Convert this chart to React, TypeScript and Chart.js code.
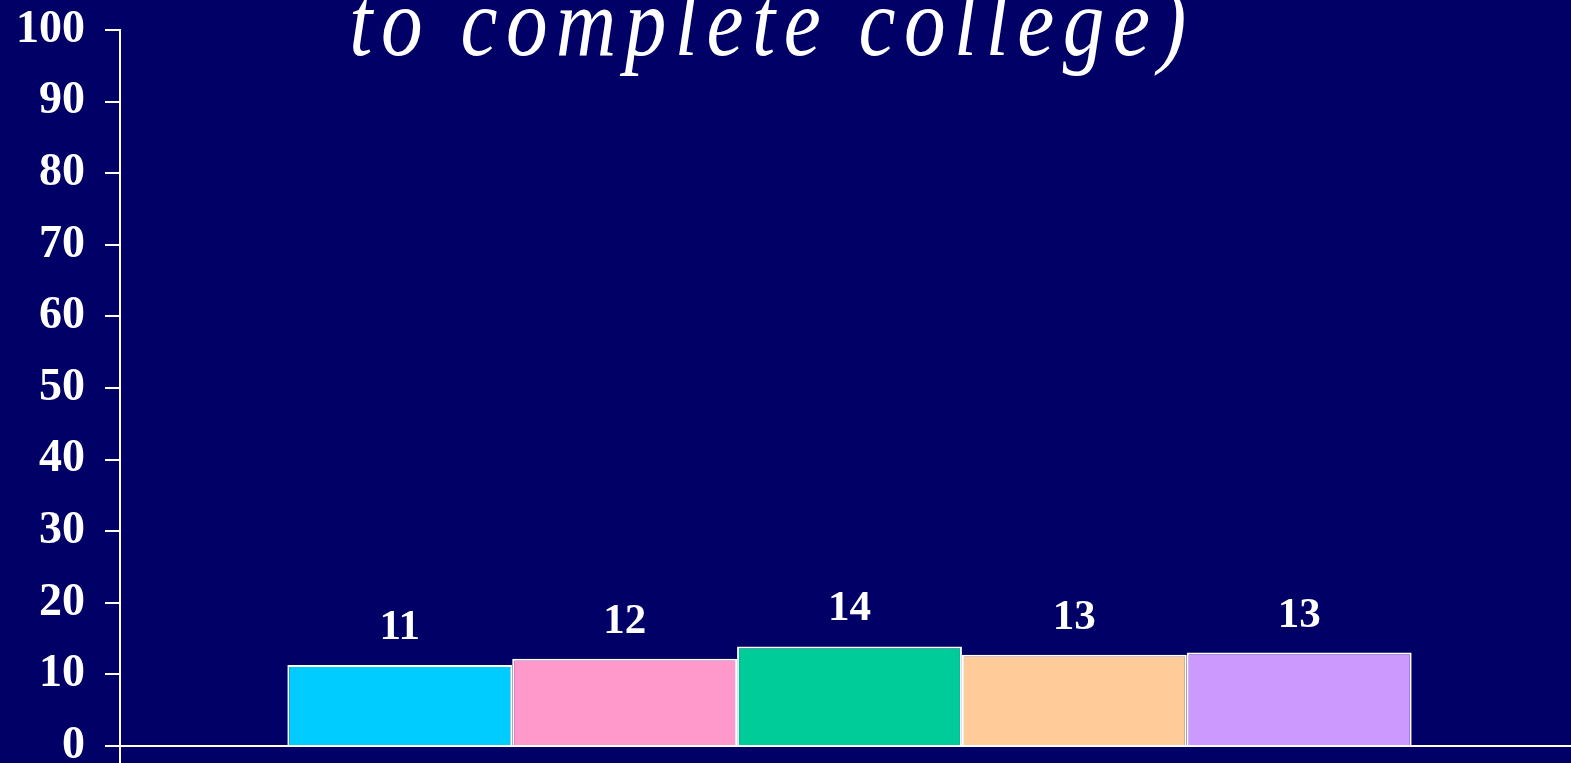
import React, { useEffect, useRef } from "react";
import { Chart, registerables } from "chart.js";

Chart.register(...registerables);

const categories = [""];
const seriesNames = ["Series 1", "Series 2", "Series 3", "Series 4", "Series 5"];
const seriesValues = [11.3, 12.2, 13.9, 12.75, 13.05];
const valueLabels = ["11", "12", "14", "13", "13"];
const seriesColors = ["#00CCFF", "#FF99CC", "#00CC99", "#FFCC99", "#CC99FF"];
const yTicks = [0, 10, 20, 30, 40, 50, 60, 70, 80, 90, 100];
const titleText = "to complete college)";

const BG = "#000066";
const SERIF = '"Liberation Serif", "Times New Roman", Times, serif';

const bgPlugin = {
  id: "bgFill",
  beforeDraw(chart: any) {
    const { ctx, width, height } = chart;
    ctx.save();
    ctx.fillStyle = BG;
    ctx.fillRect(0, 0, width, height);
    ctx.restore();
  },
};

// the plotted category band runs slightly past the right edge of the canvas
const extendPlot = {
  id: "extendPlot",
  afterLayout(chart: any) {
    const x = chart.scales.x;
    if (x) {
      x._endPixel += 8;
      x._length = x._endPixel - x._startPixel;
    }
  },
};

const titlePlugin = {
  id: "cutTitle",
  afterDraw(chart: any) {
    const { ctx } = chart;
    const sx = 0.85;
    ctx.save();
    ctx.translate(772, 55);
    ctx.scale(sx, 1);
    ctx.fillStyle = "#FFFFFF";
    ctx.font = "italic 98px " + SERIF;
    try {
      (ctx as any).letterSpacing = (8.5 / sx).toFixed(1) + "px";
    } catch (e) {}
    ctx.textAlign = "center";
    ctx.textBaseline = "alphabetic";
    ctx.fillText(titleText, 0, 0);
    ctx.restore();
  },
};

const valueLabelPlugin = {
  id: "valueLabels",
  afterDatasetsDraw(chart: any) {
    const { ctx } = chart;
    ctx.save();
    ctx.fillStyle = "#FFFFFF";
    ctx.font = "bold 43px " + SERIF;
    ctx.textAlign = "center";
    ctx.textBaseline = "alphabetic";
    chart.data.datasets.forEach((ds: any, i: number) => {
      const meta = chart.getDatasetMeta(i);
      const el = meta.data[0];
      if (!el) return;
      ctx.fillText(valueLabels[i], el.x, el.y - 26);
    });
    ctx.restore();
  },
};

export default function App() {
  const canvasRef = useRef<HTMLCanvasElement | null>(null);

  useEffect(() => {
    document.body.style.margin = "0";
    document.body.style.background = BG;
    const canvas = canvasRef.current;
    if (!canvas) return;
    const chart = new Chart(canvas, {
      type: "bar",
      data: {
        labels: categories,
        datasets: seriesNames.map((name, i) => ({
          label: name,
          data: [seriesValues[i]],
          backgroundColor: seriesColors[i],
          borderColor: "#FFFFFF",
          borderWidth: 2,
          categoryPercentage: 0.7706,
          barPercentage: 1,
        })),
      },
      options: {
        responsive: false,
        animation: false,
        devicePixelRatio: 1,
        layout: { padding: { top: 30, right: 0, left: 0, bottom: 0 } },
        plugins: {
          legend: { display: false },
          title: { display: false },
          tooltip: { enabled: false },
        },
        scales: {
          x: {
            offset: true,
            ticks: { display: false },
            grid: {
              display: true,
              drawOnChartArea: false,
              drawTicks: true,
              tickLength: 17,
              color: "#FFFFFF",
              lineWidth: 2,
            },
            border: { display: true, color: "#FFFFFF", width: 2 },
            afterFit(scale: any) {
              scale.height = 17;
              scale.paddingLeft = 0;
              scale.paddingRight = 0;
            },
          },
          y: {
            min: 0,
            max: 100,
            afterBuildTicks(scale: any) {
              scale.ticks = yTicks.map((v) => ({ value: v }));
            },
            ticks: {
              color: "#FFFFFF",
              padding: 20,
              font: { family: SERIF, size: 46, weight: "bold" },
            },
            grid: {
              display: true,
              drawOnChartArea: false,
              drawTicks: true,
              tickLength: 15,
              color: "#FFFFFF",
              lineWidth: 2,
            },
            border: { display: true, color: "#FFFFFF", width: 2 },
            afterFit(scale: any) {
              scale.width = 120;
              scale.paddingTop = 0;
              scale.paddingBottom = 0;
            },
          },
        },
      },
      plugins: [bgPlugin, extendPlot, valueLabelPlugin, titlePlugin],
    });
    return () => chart.destroy();
  }, []);

  return (
    <div style={{ width: 1571, height: 763, position: "relative" }}>
      <canvas ref={canvasRef} width={1571} height={763} style={{ display: "block" }} />
    </div>
  );
}
